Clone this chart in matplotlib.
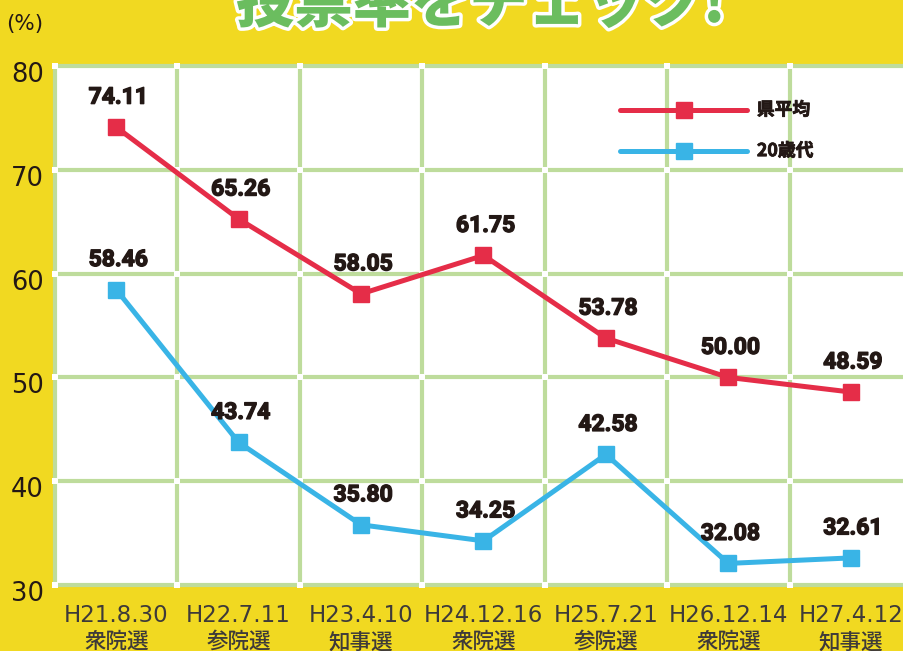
import matplotlib
matplotlib.use('Agg')
import matplotlib.pyplot as plt
import matplotlib.patheffects as pe
from matplotlib.transforms import ScaledTranslation
import numpy as np

dates     = ['H21.8.30', 'H22.7.11', 'H23.4.10', 'H24.12.16', 'H25.7.21', 'H26.12.14', 'H27.4.12']
elections = ['衆院選', '参院選', '知事選', '衆院選', '参院選', '衆院選', '知事選']
pref_avg  = [74.11, 65.26, 58.05, 61.75, 53.78, 50.00, 48.59]
age_20s   = [58.46, 43.74, 35.80, 34.25, 42.58, 32.08, 32.61]
y_ticks   = [30, 40, 50, 60, 70, 80]
series_names = ['県平均', '20歳代']

YELLOW = '#F1D921'
GRID   = '#BEDC9C'
RED    = '#E52D48'
BLUE   = '#39B4E6'
INK    = '#231815'
GREY   = '#3E3A39'
GREEN  = '#6BBD5F'

plt.rcParams['font.family'] = ['DejaVu Sans', 'Noto Sans CJK JP']

W, H = 904, 651
fig = plt.figure(figsize=(W / 100, H / 100), dpi=100, facecolor=YELLOW)
# plot area spans 55..912 px horizontally (cropped at the right), 66..585 px vertically
ax = fig.add_axes([55 / W, (H - 585) / H, 857 / W, 519 / H])
ax.set_facecolor('white')
for s in ax.spines.values():
    s.set_visible(False)

x = np.arange(len(dates))
thicken = [pe.withStroke(linewidth=1.0, foreground=INK)]

# ── grid with little white gaps at crossings ──────────────────────────────
vx = np.arange(len(dates) + 1) - 0.5
for yv in y_ticks:
    ax.plot([vx[0], vx[-1]], [yv, yv], color=GRID, lw=3, clip_on=False,
            zorder=1, solid_capstyle='butt')
for xv in vx:
    ax.plot([xv, xv], [y_ticks[0], y_ticks[-1]], color=GRID, lw=3, clip_on=False,
            zorder=1, solid_capstyle='butt')
gx, gy = np.meshgrid(vx, y_ticks)
ax.scatter(gx.ravel(), gy.ravel(), marker='s', s=14, color='white',
           linewidths=0, zorder=1.5, clip_on=False)

# ── series ────────────────────────────────────────────────────────────────
for vals, col in [(pref_avg, RED), (age_20s, BLUE)]:
    ax.plot(x, vals, color=col, lw=3.6, marker='s', ms=11.5, zorder=3,
            clip_on=False)
    for xi, v in zip(x, vals):
        ax.annotate(f'{v:.2f}', xy=(xi, v), xytext=(2, 30), textcoords='offset pixels',
                    ha='center', va='center', fontsize=16.5, fontweight='bold',
                    family=['Roboto', 'DejaVu Sans'], color=INK, zorder=4,
                    path_effects=thicken)

# ── legend (drawn by hand) ────────────────────────────────────────────────
for name, col, yy in zip(series_names, [RED, BLUE], [0.915, 0.836]):
    ax.plot([0.659, 0.808], [yy, yy], transform=ax.transAxes, color=col, lw=3.6,
            solid_capstyle='round', zorder=3)
    ax.plot([0.7335], [yy], transform=ax.transAxes, color=col, marker='s', ms=11.5,
            zorder=3)
    ax.text(0.819, yy, name, transform=ax.transAxes, ha='left', va='center',
            fontsize=12.8, fontweight='bold', family=['Noto Sans CJK JP'], color=INK,
            path_effects=[pe.withStroke(linewidth=0.6, foreground=INK)])

# ── axes ──────────────────────────────────────────────────────────────────
ax.set_xlim(-0.5, len(dates) - 0.5)
ax.set_ylim(y_ticks[0], y_ticks[-1])
ax.set_xticks([])
ax.set_yticks(y_ticks)
ax.tick_params(axis='y', length=0, pad=8, labelsize=18.5, labelcolor=INK)
for lab in ax.get_yticklabels():
    lab.set_transform(lab.get_transform() + ScaledTranslation(0, -0.06, fig.dpi_scale_trans))

for xi, d, e in zip(x, dates, elections):
    ax.annotate(d, xy=(xi, 0), xycoords=('data', 'axes fraction'), xytext=(0, -30),
                textcoords='offset pixels', ha='center', va='center',
                fontsize=16.5, color=GREY)
    ax.annotate(e, xy=(xi, 0), xycoords=('data', 'axes fraction'), xytext=(0, -57),
                textcoords='offset pixels', ha='center', va='center',
                fontsize=15.5, fontweight='medium', family=['Noto Sans CJK JP'],
                color=GREY)

# ── header ────────────────────────────────────────────────────────────────
fig.text(481 / W, 1 - 22 / H, '投票率をチェック!', ha='center', va='baseline',
         fontsize=42, fontweight='black', family=['Noto Sans CJK JP'], color=GREEN,
         path_effects=[pe.withStroke(linewidth=5, foreground='white')])
fig.text(25 / W, 1 - 24 / H, '(%)', ha='center', va='center', fontsize=15.5, color=INK)

fig.savefig('out.png', dpi=100, facecolor=YELLOW)
